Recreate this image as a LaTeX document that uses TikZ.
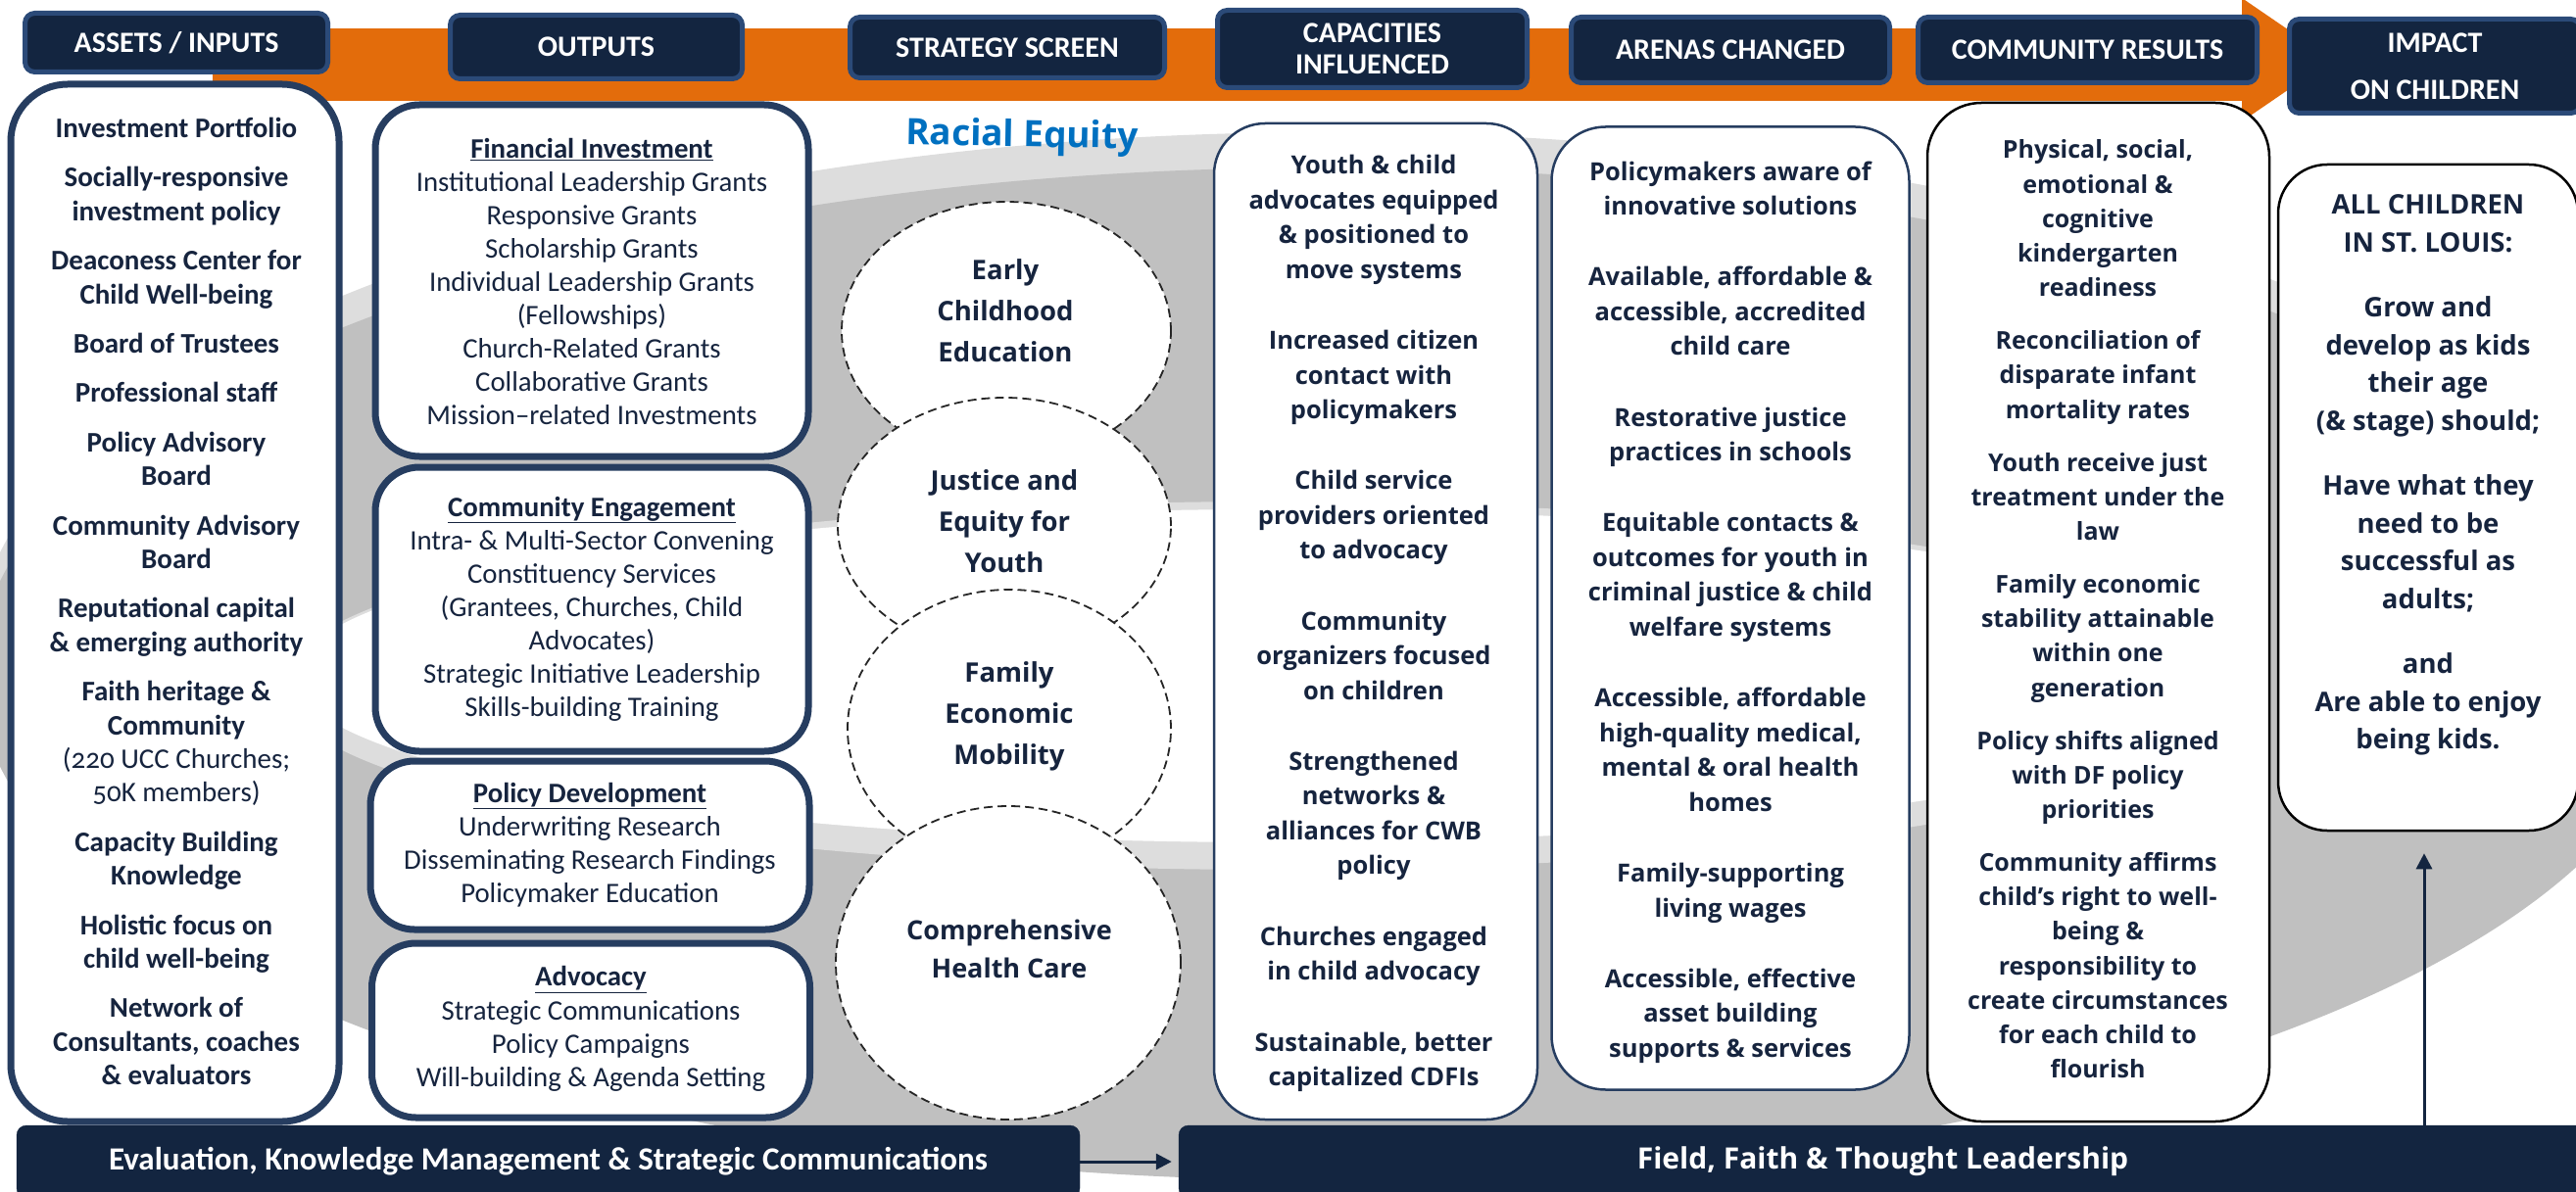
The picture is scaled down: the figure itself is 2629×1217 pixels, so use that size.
\documentclass[tikz,border=0pt]{standalone}
\usepackage{fontspec}
\setmainfont{Carlito}
\newfontfamily\osans{Open Sans}
\usetikzlibrary{shapes.geometric,arrows.meta}
\definecolor{navy}{RGB}{19,37,64}
\definecolor{hdrborder}{RGB}{43,74,120}
\definecolor{boxborder}{RGB}{38,61,96}
\definecolor{txt}{RGB}{22,36,62}
\definecolor{orangeA}{RGB}{227,108,11}
\definecolor{lgray}{RGB}{221,221,221}
\definecolor{mgray}{RGB}{192,192,192}
\definecolor{reblue}{RGB}{0,112,192}
\begin{document}
\begin{tikzpicture}[x=1pt,y=-1pt,
  hdr/.style={draw=hdrborder, line width=5pt, fill=navy, rounded corners=10pt, text=white, align=center, inner sep=0pt, font=\bfseries\fontsize{30pt}{32pt}\selectfont},
  colbox/.style={draw=boxborder, line width=7pt, fill=white, rounded corners=#1, inner sep=0pt},
  thinbox/.style={draw=#1, line width=2.5pt, fill=white, rounded corners=55pt, inner sep=0pt},
  scr/.style={ellipse, draw=black!85, dash pattern=on 9pt off 5pt, line width=1.8pt, fill=white, inner sep=0pt},
  coltxt/.style={align=center, text=txt, inner sep=0pt},
  asset/.style={coltxt, font=\bfseries\fontsize{29pt}{34.4pt}\selectfont},
  outp/.style={coltxt, font=\fontsize{28.8pt}{34.1pt}\selectfont},
  mid/.style={coltxt, font=\osans\bfseries\fontsize{25.5pt}{35.5pt}\selectfont},
  scrtxt/.style={coltxt, font=\osans\bfseries\fontsize{27.5pt}{42pt}\selectfont},
  bar/.style={fill=navy, draw=navy, rounded corners=10pt, inner sep=0pt, text=white},
  arr/.style={draw=navy, line width=3pt, -{Triangle[length=16pt,width=16pt]}}
]
\useasboundingbox (0,0) rectangle (2629,1217);
\clip (0,0) rectangle (2629,1217);
\fill[white] (0,0) rectangle (2629,1217);
% background swirl
\fill[lgray] (1355,665) ellipse [x radius=1380pt, y radius=530pt];
\fill[mgray] (1355,688) ellipse [x radius=1378pt, y radius=517pt];
\fill[lgray] (1300,700) ellipse [x radius=1015pt, y radius=188pt];
\fill[white] (1300,690) ellipse [x radius=1000pt, y radius=170pt];
% orange process arrow
\fill[orangeA] (217,29) rectangle (2290,103);
\fill[orangeA] (2288,-2) -- (2380,61) -- (2288,124) -- cycle;
% headers
\node[hdr, minimum width=309pt, minimum height=60pt] (h1) at (180,43.5) {ASSETS / INPUTS};
\node[hdr, minimum width=298pt, minimum height=65pt] (h2) at (608.5,48) {OUTPUTS};
\node[hdr, minimum width=321pt, minimum height=62pt] (h3) at (1028,48.5) {STRATEGY SCREEN};
\node[hdr, minimum width=316pt, minimum height=79pt] (h4) at (1400.5,50) {CAPACITIES\\INFLUENCED};
\node[hdr, minimum width=325pt, minimum height=67pt] (h5) at (1766,51) {ARENAS CHANGED};
\node[hdr, minimum width=346pt, minimum height=67pt] (h6) at (2130.5,51) {COMMUNITY RESULTS};
\node[hdr, minimum width=297pt, minimum height=96pt, font=\bfseries\fontsize{30pt}{48pt}\selectfont] (h7) at (2485,67.5) {IMPACT\\ON CHILDREN};
% column 1
\node[colbox=58pt, minimum width=335pt, minimum height=1059pt] (assets) at (178.5,615.5) {};
\node[asset] (assetstxt) at (180,614) {Investment Portfolio\\[16pt]
Socially-responsive\\investment policy\\[16pt]
Deaconess Center for\\Child Well-being\\[16pt]
Board of Trustees\\[16pt]
Professional staff\\[16pt]
Policy Advisory\\Board\\[16pt]
Community Advisory\\Board\\[16pt]
Reputational capital\\\& emerging authority\\[16pt]
Faith heritage \&\\Community\\
{\mdseries\addfontfeature{Numbers=OldStyle}(220 UCC Churches;}\\
{\mdseries\addfontfeature{Numbers=OldStyle}50K members)}\\[16pt]
Capacity Building\\Knowledge\\[16pt]
Holistic focus on\\child well-being\\[16pt]
Network of\\Consultants, coaches\\\& evaluators};
% column 2
\node[colbox=45pt, minimum width=442pt, minimum height=359pt] (fin) at (604,286.5) {};
\node[outp] (fintxt) at (604,287.5) {\underline{\textbf{Financial Investment}}\\Institutional Leadership Grants\\Responsive Grants\\Scholarship Grants\\Individual Leadership Grants\\(Fellowships)\\Church-Related Grants\\Collaborative Grants\\Mission–related Investments};
\node[colbox=45pt, minimum width=442pt, minimum height=290pt] (ce) at (604,622) {};
\node[outp] (cetxt) at (604,622) {\underline{\textbf{Community Engagement}}\\Intra- \& Multi-Sector Convening\\Constituency Services\\(Grantees, Churches, Child\\Advocates)\\Strategic Initiative Leadership\\Skills-building Training};
\node[colbox=45pt, minimum width=448pt, minimum height=172pt] (pd) at (602,863) {};
\node[outp] (pdtxt) at (602,863) {\underline{\textbf{Policy Development}}\\Underwriting Research\\Disseminating Research Findings\\Policymaker Education};
\node[colbox=45pt, minimum width=447pt, minimum height=178pt] (adv) at (603,1052) {};
\node[outp] (advtxt) at (603,1050.5) {\underline{\textbf{Advocacy}}\\Strategic Communications\\Policy Campaigns\\Will-building \& Agenda Setting};
% strategy screen
\node[scr, minimum width=336pt, minimum height=264pt] (e1) at (1027,338) {};
\node[scr, minimum width=340pt, minimum height=262pt] (e2) at (1025,537) {};
\node[scr, minimum width=330pt, minimum height=284pt] (e3) at (1030,744) {};
\node[scr, minimum width=352pt, minimum height=320pt] (e4) at (1029,983) {};
\node[scrtxt] (e1t) at (1026,317) {Early\\Childhood\\Education};
\node[scrtxt] (e2t) at (1025,532) {Justice and\\Equity for\\Youth};
\node[scrtxt] (e3t) at (1030,731) {Family\\Economic\\Mobility};
\node[scrtxt, font=\osans\bfseries\fontsize{27pt}{39pt}\selectfont] (e4t) at (1030,968.5) {Comprehensive\\Health Care};
\node[text=reblue, font=\osans\bfseries\fontsize{37pt}{40pt}\selectfont, rotate=-1, inner sep=0pt] (re) at (1043,140) {Racial Equity};
% capacities
\node[thinbox=boxborder, rounded corners=52pt, minimum width=330pt, minimum height=1017pt] (cap) at (1404,634.5) {};
\node[mid] (captxt) at (1402,636.5) {Youth \& child\\advocates equipped\\\& positioned to\\move systems\\[36.8pt]
Increased citizen\\contact with\\policymakers\\[36.8pt]
Child service\\providers oriented\\to advocacy\\[36.8pt]
Community\\organizers focused\\on children\\[36.8pt]
Strengthened\\networks \&\\alliances for CWB\\policy\\[36.8pt]
Churches engaged\\in child advocacy\\[36.8pt]
Sustainable, better\\capitalized CDFIs};
% arenas
\node[thinbox=boxborder, minimum width=365pt, minimum height=983pt] (ar) at (1766,621) {};
\node[mid] (artxt) at (1766,625) {Policymakers aware of\\innovative solutions\\[36.8pt]
Available, affordable \&\\accessible, accredited\\child care\\[36.8pt]
Restorative justice\\practices in schools\\[36.8pt]
Equitable contacts \&\\outcomes for youth in\\criminal justice \& child\\welfare systems\\[36.8pt]
Accessible, affordable\\high-quality medical,\\mental \& oral health\\homes\\[36.8pt]
Family-supporting\\living wages\\[36.8pt]
Accessible, effective\\asset building\\supports \& services};
% community results
\node[thinbox=black, minimum width=349pt, minimum height=1040pt] (cr) at (2141.5,625) {};
\node[mid, font=\osans\bfseries\fontsize{25pt}{35.2pt}\selectfont] (crtxt) at (2141,622) {Physical, social,\\emotional \&\\cognitive\\kindergarten\\readiness\\[18.8pt]
Reconciliation of\\disparate infant\\mortality rates\\[18.8pt]
Youth receive just\\treatment under the\\law\\[18.8pt]
Family economic\\stability attainable\\within one\\generation\\[18.8pt]
Policy shifts aligned\\with DF policy\\priorities\\[18.8pt]
Community affirms\\child’s right to well-\\being \&\\responsibility to\\create circumstances\\for each child to\\flourish};
% impact
\node[thinbox=black, rounded corners=50pt, minimum width=306pt, minimum height=680pt] (imp) at (2478,508) {};
\node[mid, font=\osans\bfseries\fontsize{27.5pt}{38.5pt}\selectfont] (imptxt) at (2478,485) {ALL CHILDREN\\IN ST. LOUIS:\\[28pt]
Grow and\\develop as kids\\their age\\(\& stage) should;\\[28pt]
Have what they\\need to be\\successful as\\adults;\\[28pt]
and\\Are able to enjoy\\being kids.};
% bottom bars
\node[bar, minimum width=1085pt, minimum height=74pt, font=\bfseries\fontsize{33pt}{35pt}\selectfont] (eval) at (559.5,1186) {Evaluation, Knowledge Management \& Strategic Communications};
\node[bar, minimum width=1437pt, minimum height=74pt, font=\osans\bfseries\fontsize{30pt}{32pt}\selectfont] (field) at (1921.5,1186) {Field, Faith \& Thought Leadership};
\draw[arr, shorten >=7pt] (eval.east) -- (field.west);
\coordinate (vbase) at (2474,1150);
\draw[arr, shorten >=22pt] (vbase) -- (vbase |- imp.south);
\end{tikzpicture}
\end{document}
